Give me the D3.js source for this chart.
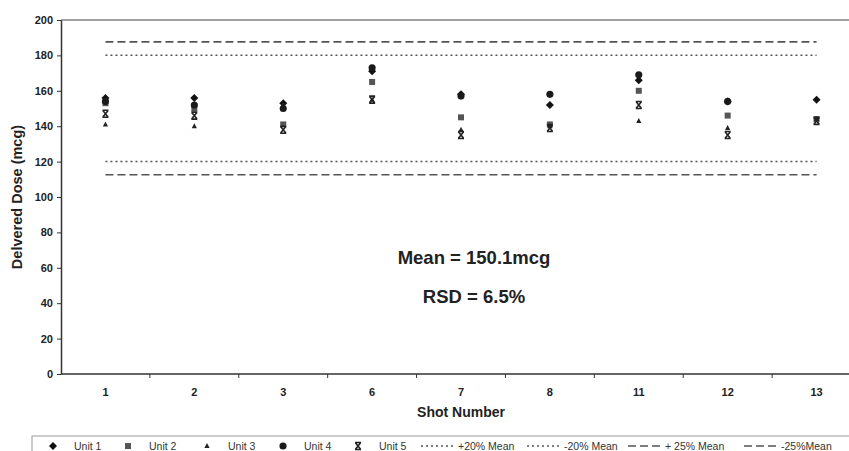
<!DOCTYPE html>
<html lang="en">
  <head>
    <meta charset="UTF-8" />
    <title>Delivered Dose by Shot</title>
    <style>
      body { margin: 0; background: #fff; }
      text { font-family: "Liberation Sans", Arial, sans-serif; }
    </style>
  </head>
  <body>
    <svg width="849" height="451"></svg>

    <script src="https://d3js.org/d3.v7.min.js"></script>
    <script>
      const shots = ["1", "2", "3", "6", "7", "8", "11", "12", "13"];
      const unit1 = [156, 156, 153, 171, 158, 152, 166, 154, 155];
      const unit2 = [153, 150, 141, 165, 145, 141, 160, 146, 144];
      const unit3 = [141, 140, 152, 155, 138, 140, 143, 139, 144];
      const unit4 = [154, 152, 150, 173, 157, 158, 169, 154, null];
      const unit5 = [147, 146, 138, 155, 135, 139, 152, 135, 143];
      const mean = 150.1;
      const limits = [
        { label: "+20% Mean", value: mean * 1.2, dash: "2,3" },
        { label: "-20% Mean", value: mean * 0.8, dash: "2,3" },
        { label: "+ 25% Mean", value: mean * 1.25, dash: "8,4" },
        { label: "-25%Mean", value: mean * 0.75, dash: "8,4" },
      ];
      const yTicks = [0, 20, 40, 60, 80, 100, 120, 140, 160, 180, 200];

      const svg = d3.select("svg");
      const plotL = 61, plotR = 861, plotT = 20, plotB = 374;

      const x = d3.scaleBand().domain(shots).range([plotL, plotR]);
      const y = d3.scaleLinear().domain([0, 200]).range([plotB, plotT]);

      const series = [
        { name: "Unit 1", values: unit1, path: "M0,-4L4,0L0,4L-4,0Z", fill: "#111" },
        { name: "Unit 2", values: unit2, path: "M-3,-3H3V3H-3Z", fill: "#555" },
        { name: "Unit 3", values: unit3, path: "M0,-3L2.6,2H-2.6Z", fill: "#222" },
        { name: "Unit 4", values: unit4, path: d3.symbol(d3.symbolCircle, 40)(), fill: "#1a1a1a" },
        { name: "Unit 5", values: unit5, path: null, fill: "#222" },
      ];

      // plot frame
      svg.append("line").attr("x1", plotL).attr("x2", plotR)
        .attr("y1", plotT).attr("y2", plotT).attr("stroke", "#444").attr("stroke-width", 1.2);

      // y axis
      const yAxis = svg.append("g")
        .attr("transform", `translate(${plotL},0)`)
        .call(d3.axisLeft(y).tickValues(yTicks).tickSize(4).tickSizeOuter(0));
      yAxis.select(".domain").attr("stroke", "#333").attr("stroke-width", 1.5);
      yAxis.selectAll(".tick line").attr("stroke", "#333");
      yAxis.selectAll("text").attr("font-size", 11).attr("font-weight", "bold")
        .attr("fill", "#222").attr("dx", -1);

      // x axis with ticks at category boundaries
      const xAxis = svg.append("g").attr("transform", `translate(0,${plotB})`);
      xAxis.append("line").attr("x1", plotL).attr("x2", plotR)
        .attr("stroke", "#333").attr("stroke-width", 1.5);
      xAxis.selectAll(".bt").data(shots.slice(1)).join("line")
        .attr("x1", d => x(d)).attr("x2", d => x(d))
        .attr("y1", 0).attr("y2", 4).attr("stroke", "#333");
      xAxis.selectAll(".lbl").data(shots).join("text")
        .attr("x", d => x(d) + x.bandwidth() / 2).attr("y", 22)
        .attr("text-anchor", "middle").attr("font-size", 11)
        .attr("font-weight", "bold").attr("fill", "#222").text(d => d);

      svg.append("text").attr("x", 461).attr("y", 417)
        .attr("text-anchor", "middle").attr("font-size", 14)
        .attr("font-weight", "bold").attr("fill", "#222").text("Shot Number");
      svg.append("text").attr("transform", "translate(22,197) rotate(-90)")
        .attr("text-anchor", "middle").attr("font-size", 14.5)
        .attr("font-weight", "bold").attr("fill", "#222").text("Delvered Dose (mcg)");

      // limit lines
      const x0 = x(shots[0]) + x.bandwidth() / 2;
      const x1 = x(shots[shots.length - 1]) + x.bandwidth() / 2;
      svg.selectAll(".limit").data(limits).join("line")
        .attr("x1", x0).attr("x2", x1)
        .attr("y1", d => y(d.value)).attr("y2", d => y(d.value))
        .attr("stroke", "#555").attr("stroke-width", 1.6)
        .attr("stroke-dasharray", d => d.dash);

      // markers
      const drawMarker = (g, s) => {
        if (s.path) {
          g.append("path").attr("d", s.path).attr("fill", s.fill);
        } else {
          g.append("path").attr("d", "M-3,-3.5L3,-3.5M-3,3.5L3,3.5M-2.6,-3.2L2.6,3.2M2.6,-3.2L-2.6,3.2")
            .attr("stroke", s.fill).attr("stroke-width", 1.6).attr("fill", "none");
        }
      };
      series.forEach(s => {
        s.values.forEach((v, i) => {
          if (v == null) return;
          const g = svg.append("g")
            .attr("transform", `translate(${x(shots[i]) + x.bandwidth() / 2},${y(v)})`);
          drawMarker(g, s);
        });
      });

      // annotations
      svg.append("text").attr("x", 474).attr("y", 264).attr("text-anchor", "middle")
        .attr("font-size", 18.5).attr("font-weight", "bold").attr("fill", "#222")
        .text("Mean = 150.1mcg");
      svg.append("text").attr("x", 474).attr("y", 303).attr("text-anchor", "middle")
        .attr("font-size", 18.5).attr("font-weight", "bold").attr("fill", "#222")
        .text("RSD = 6.5%");

      // legend
      const legend = svg.append("g");
      legend.append("rect").attr("x", 32).attr("y", 436).attr("width", 840).attr("height", 30)
        .attr("fill", "none").attr("stroke", "#999").attr("stroke-width", 1);
      const legX = [53, 128, 207, 283, 358];
      series.forEach((s, i) => {
        const g = legend.append("g").attr("transform", `translate(${legX[i]},446)`);
        drawMarker(g, s);
        legend.append("text").attr("x", legX[i] + 21).attr("y", 449.5)
          .attr("font-size", 10.5).attr("fill", "#333").text(s.name);
      });
      const limX = [421, 527, 628, 744];
      limits.forEach((l, i) => {
        legend.append("line").attr("x1", limX[i]).attr("x2", limX[i] + 35)
          .attr("y1", 446).attr("y2", 446).attr("stroke", "#555")
          .attr("stroke-width", 1.4).attr("stroke-dasharray", l.dash);
        legend.append("text").attr("x", limX[i] + 37).attr("y", 449.5)
          .attr("font-size", 10.5).attr("fill", "#333").text(l.label);
      });
    </script>
  </body>
</html>
